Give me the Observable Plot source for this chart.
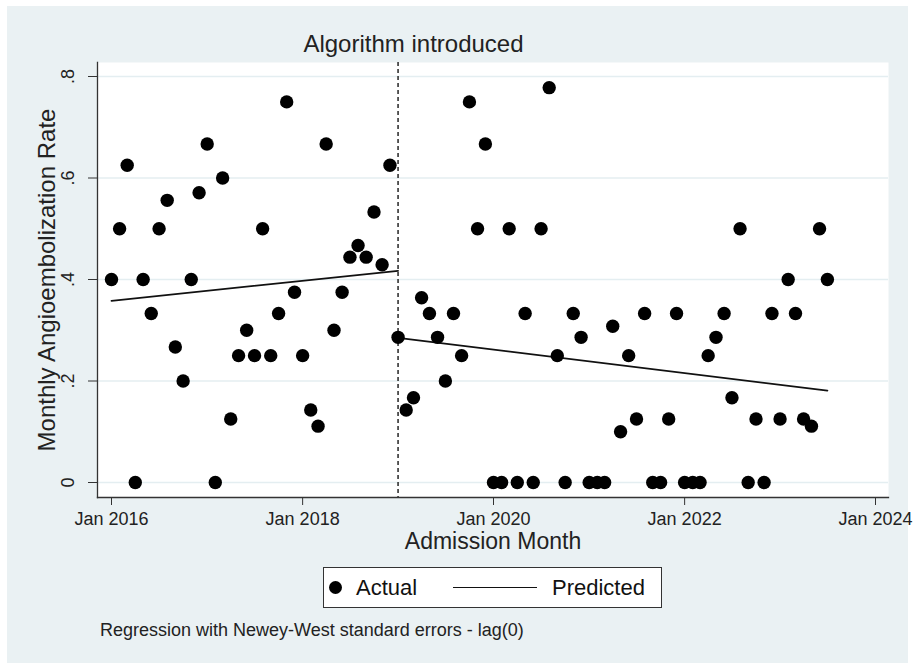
<!DOCTYPE html>
<html><head><meta charset="utf-8">
<script src="https://cdn.jsdelivr.net/npm/d3@7"></script>
<script src="https://cdn.jsdelivr.net/npm/@observablehq/plot@0.6"></script>
<style>
html,body{margin:0;padding:0;background:#fff;}
body{width:913px;height:667px;position:relative;overflow:hidden;font-family:"Liberation Sans",Arial,sans-serif;color:#222;}
#region{position:absolute;left:7px;top:6px;width:901px;height:657px;background:#eaf1f3;}
#chart{position:absolute;left:0;top:0;}
#legend{position:absolute;left:316px;top:561px;width:339px;height:41px;box-sizing:border-box;border:1px solid #333;background:#fff;}
#legend .dot{position:absolute;left:4.5px;top:12.5px;width:13px;height:13px;border-radius:50%;background:#000;}
#legend .line{position:absolute;left:129px;top:18.5px;width:84px;height:1.6px;background:#111;}
#legend .lab{position:absolute;top:-1px;line-height:41px;font-size:22px;color:#111;}
#note{position:absolute;left:93px;top:613px;line-height:22px;font-size:18px;color:#222;white-space:nowrap;}
</style>
</head><body>
<div id="region">
  <div id="chart"></div>
  <div id="legend">
    <div class="dot"></div><div class="lab" id="lab1" style="left:32px"></div>
    <div class="line"></div><div class="lab" id="lab2" style="left:228px"></div>
  </div>
  <div id="note"></div>
</div>
<script>
// ---- data ----
const months = [
  "2016-01","2016-02","2016-03","2016-04","2016-05","2016-06","2016-07","2016-08","2016-09","2016-10","2016-11","2016-12",
  "2017-01","2017-02","2017-03","2017-04","2017-05","2017-06","2017-07","2017-08","2017-09","2017-10","2017-11","2017-12",
  "2018-01","2018-02","2018-03","2018-04","2018-05","2018-06","2018-07","2018-08","2018-09","2018-10","2018-11","2018-12",
  "2019-01","2019-02","2019-03","2019-04","2019-05","2019-06","2019-07","2019-08","2019-09","2019-10","2019-11","2019-12",
  "2020-01","2020-02","2020-03","2020-04","2020-05","2020-06","2020-07","2020-08","2020-09","2020-10","2020-11","2020-12",
  "2021-01","2021-02","2021-03","2021-04","2021-05","2021-06","2021-07","2021-08","2021-09","2021-10","2021-11","2021-12",
  "2022-01","2022-02","2022-03","2022-04","2022-05","2022-06","2022-07","2022-08","2022-09","2022-10","2022-11","2022-12",
  "2023-01","2023-02","2023-03","2023-04","2023-05","2023-06","2023-07"
];
const rates = [
  0.4, 0.5, 0.625, 0, 0.4, 0.333, 0.5, 0.556, 0.267, 0.2, 0.4, 0.571,
  0.667, 0, 0.6, 0.125, 0.25, 0.3, 0.25, 0.5, 0.25, 0.333, 0.75, 0.375,
  0.25, 0.143, 0.111, 0.667, 0.3, 0.375, 0.444, 0.467, 0.444, 0.533, 0.429, 0.625,
  0.286, 0.143, 0.167, 0.364, 0.333, 0.286, 0.2, 0.333, 0.25, 0.75, 0.5, 0.667,
  0, 0, 0.5, 0, 0.333, 0, 0.5, 0.778, 0.25, 0, 0.333, 0.286,
  0, 0, 0, 0.308, 0.1, 0.25, 0.125, 0.333, 0, 0, 0.125, 0.333,
  0, 0, 0, 0.25, 0.286, 0.333, 0.167, 0.5, 0, 0.125, 0, 0.333,
  0.125, 0.4, 0.333, 0.125, 0.111, 0.5, 0.4
];
const predSegment = ["pre", "pre", "post", "post"];
const predMonths = ["2016-01", "2019-01", "2019-01", "2023-07"];
const predRates = [0.358, 0.417, 0.285, 0.181];
const interventionMonth = "2019-01";
const annotationMonth = "2019-03";
const annotationText = "Algorithm introduced";
const xTickMonths = ["2016-01", "2018-01", "2020-01", "2022-01", "2024-01"];
const xTickLabels = ["Jan 2016", "Jan 2018", "Jan 2020", "Jan 2022", "Jan 2024"];
const yTicks = [0, 0.2, 0.4, 0.6, 0.8];
const yTickLabels = ["0", ".2", ".4", ".6", ".8"];
const xTitle = "Admission Month";
const yTitle = "Monthly Angioembolization Rate";
const legendLabels = ["Actual", "Predicted"];
const note = "Regression with Newey-West standard errors - lag(0)";

// ---- build ----
const parse = d3.utcParse("%Y-%m");
const actual = months.map((m, i) => ({date: parse(m), rate: rates[i]}));
const predicted = predMonths.map((m, i) => ({date: parse(m), rate: predRates[i], seg: predSegment[i]}));
const xTicks = xTickMonths.map(parse);
const font = "'Liberation Sans', Arial, Helvetica, sans-serif";

const chart = Plot.plot({
  width: 901, height: 556,
  marginLeft: 90, marginRight: 20, marginTop: 56, marginBottom: 65,
  style: {background: "transparent", fontFamily: font, fontSize: "18px", color: "#222", overflow: "visible"},
  x: {type: "utc", domain: [xTicks[0], xTicks[xTicks.length - 1]], insetLeft: 14, insetRight: 13},
  y: {domain: [0, 0.8], insetTop: 14, insetBottom: 15},
  marks: [
    Plot.frame({fill: "white", stroke: null}),
    Plot.gridY(yTicks, {stroke: "#e4eef1", strokeOpacity: 1, strokeWidth: 1.5}),
    Plot.frame({anchor: "left", stroke: "#333", strokeWidth: 1.3}),
    Plot.frame({anchor: "bottom", stroke: "#333", strokeWidth: 1.3}),
    Plot.axisY(yTicks, {tickSize: 9, tickFormat: () => "", stroke: "#333", label: null}),
    Plot.text(yTicks, {y: d => d, text: (d, i) => yTickLabels[i], frameAnchor: "left", rotate: -90, dx: -29, fontSize: 18, textAnchor: "middle", lineAnchor: "middle"}),
    Plot.axisX(xTicks, {tickSize: 8, tickPadding: 7, tickFormat: (d, i) => xTickLabels[i], stroke: "#333", label: null, fontSize: 18}),
    Plot.text([yTitle], {frameAnchor: "left", rotate: -90, dx: -50, fontSize: 24, textAnchor: "middle", lineAnchor: "middle"}),
    Plot.text([xTitle], {frameAnchor: "bottom", dy: 44, fontSize: 23, textAnchor: "middle", lineAnchor: "middle"}),
    Plot.ruleX([parse(interventionMonth)], {stroke: "#333", strokeWidth: 1.6, strokeDasharray: "4,3"}),
    Plot.line(predicted, {x: "date", y: "rate", z: "seg", stroke: "#111", strokeWidth: 1.8}),
    Plot.dot(actual, {x: "date", y: "rate", r: 6.7, fill: "#000", stroke: null}),
    Plot.text([annotationText], {x: () => parse(annotationMonth), frameAnchor: "top", dy: -18, fontSize: 24, textAnchor: "middle", lineAnchor: "middle"})
  ]
});
document.getElementById("chart").appendChild(chart);
document.getElementById("lab1").textContent = legendLabels[0];
document.getElementById("lab2").textContent = legendLabels[1];
document.getElementById("note").textContent = note;
</script>
</body></html>
